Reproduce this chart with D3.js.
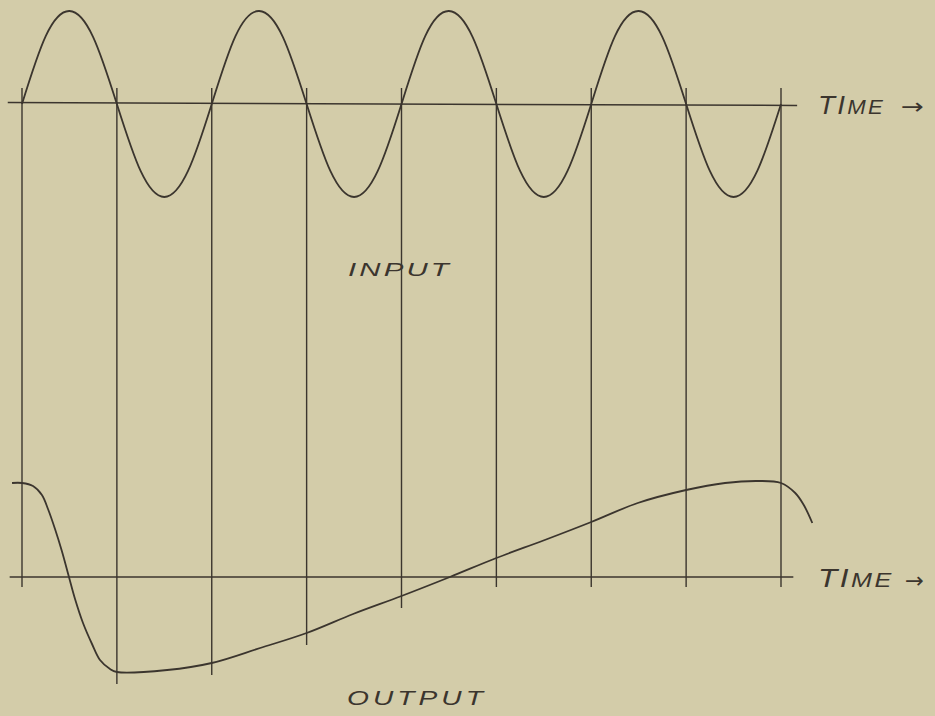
<!DOCTYPE html>
<html><head><meta charset="utf-8">
<script src="https://cdn.jsdelivr.net/npm/d3@7"></script>
<style>html,body{margin:0;padding:0;background:#d3cca9;} svg{display:block}</style>
</head><body><script>
// zero crossings of the input (half-cycle index)
const crossings = [0, 1, 2, 3, 4, 5, 6, 7, 8];
const inputT = [0,0.25,0.5,0.75,1,1.25,1.5,1.75,2,2.25,2.5,2.75,3,3.25,3.5,3.75,4,4.25,4.5,4.75,5,5.25,5.5,5.75,6,6.25,6.5,6.75,7,7.25,7.5,7.75,8];
const inputV = [0,0.73,1,0.72,0,-0.72,-1,-0.72,0,0.73,1,0.72,0,-0.72,-1,-0.72,0,0.73,1,0.72,0,-0.72,-1,-0.72,0,0.73,1,0.72,0,-0.72,-1,-0.72,0];
// output response
const outputT = [-0.105,0,0.116,0.21,0.274,0.348,0.42,0.495,0.559,0.643,0.738,0.822,0.928,1,1.53,2,2.51,3,3.49,4,4.51,5,5.51,6,6.49,7,7.41,7.76,8,8.15,8.24,8.33];
const outputV = [0.94,0.94,0.91,0.82,0.68,0.48,0.26,0,-0.22,-0.46,-0.67,-0.83,-0.92,-0.95,-0.93,-0.86,-0.71,-0.56,-0.37,-0.19,0,0.19,0.37,0.55,0.74,0.87,0.94,0.96,0.94,0.84,0.72,0.54];
const axisWord = ["T", "I", "M", "E"];
const arrow = "→";
const panelTitles = ["INPUT", "OUTPUT"];

const W = 935, H = 716;
const ink = "#3b352e";
const svg = d3.select("body").append("svg").attr("width", W).attr("height", H);
svg.append("rect").attr("width", W).attr("height", H).attr("fill", "#d3cca9");

const x = d3.scaleLinear().domain([0, 8]).range([22, 781]);
const yIn = d3.scaleLinear().domain([-1, 1]).range([197, 11]);
const yOut = d3.scaleLinear().domain([-1, 1]).range([677, 477]);

// axes (baselines)
svg.append("line").attr("x1", x(-0.15)).attr("x2", x(8.17))
  .attr("y1", yIn(0) - 1.5).attr("y2", yIn(0) + 1.5)
  .attr("stroke", ink).attr("stroke-width", 1.5);
svg.append("line").attr("x1", x(-0.13)).attr("x2", x(8.13))
  .attr("y1", yOut(0)).attr("y2", yOut(0))
  .attr("stroke", ink).attr("stroke-width", 1.5);

// vertical lines at zero crossings
const outAt = t => outputV[outputT.indexOf(t)];
svg.selectAll("line.v").data(crossings).join("line").attr("class", "v")
  .attr("x1", d => x(d)).attr("x2", d => x(d))
  .attr("y1", yIn(0) - 16)
  .attr("y2", d => Math.max(yOut(0) + 10, yOut(outAt(d)) + 12))
  .attr("stroke", ink).attr("stroke-width", 1.4);

// input wave
const inPts = inputT.map((t, i) => [t, inputV[i]]);
svg.append("path").datum(inPts)
  .attr("d", d3.line().x(d => x(d[0])).y(d => yIn(d[1])).curve(d3.curveNatural))
  .attr("fill", "none").attr("stroke", ink).attr("stroke-width", 1.8);

// output curve
const outPts = outputT.map((t, i) => [t, outputV[i]]);
svg.append("path").datum(outPts)
  .attr("d", d3.line().x(d => x(d[0])).y(d => yOut(d[1])).curve(d3.curveCatmullRom.alpha(0.5)))
  .attr("fill", "none").attr("stroke", ink).attr("stroke-width", 1.8);

// labels (hand lettering imitated by stretched italic caps)
const font = "'Liberation Sans', 'DejaVu Sans', sans-serif";
function fitted(build, x0, yb, width, spacing) {
  const t = svg.append("text").attr("x", 0).attr("y", 0)
    .attr("font-family", font).attr("font-style", "italic")
    .attr("letter-spacing", spacing).attr("fill", ink);
  build(t);
  const w = t.node().getBBox().width;
  t.attr("transform", `translate(${x0},${yb}) scale(${width / w},1)`);
  return t;
}
function timeLabel(x0, yb, wordW, arrowX, arrowW, arrowY) {
  fitted(t => {
    axisWord.forEach((ch, i) => t.append("tspan").attr("font-size", i < 2 ? 25 : 20).text(ch));
  }, x0, yb, wordW, 2);
  fitted(t => t.attr("font-family", "'DejaVu Sans', sans-serif").attr("font-style", "normal")
    .attr("font-size", 22).text(arrow), arrowX, arrowY, arrowW, 0);
}
timeLabel(818, yIn(0) + 10, 67, 901, 23, yIn(0) + 10);
timeLabel(818, yOut(0) + 10, 76, 905, 19, yOut(0) + 11);

fitted(t => t.attr("font-size", 19).text(panelTitles[0]), 348, 276, 104, 2);
fitted(t => t.attr("font-size", 21).text(panelTitles[1]), 347, 705, 140, 3);
</script></body></html>
